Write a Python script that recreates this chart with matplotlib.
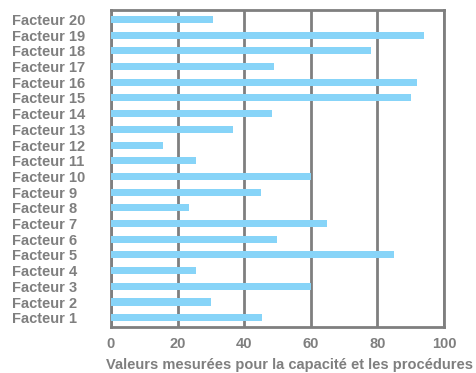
import matplotlib.pyplot as plt

facteurs = ["Facteur %d" % i for i in range(1, 21)]
valeurs = [45.5, 30, 60, 25.5, 85, 50, 65, 23.5, 45, 60,
           25.5, 15.5, 36.5, 48.5, 90, 92, 49, 78, 94, 30.5]
xticks = [0, 20, 40, 60, 80, 100]

gris = "#7f7f7f"
plt.rcParams['font.family'] = ['Liberation Sans', 'DejaVu Sans']

fig = plt.figure(figsize=(4.77, 3.73), dpi=100)
ax = fig.add_axes([0.2327, 0.123, 0.698, 0.85])

ax.barh(range(len(facteurs)), valeurs, height=0.45, color="#87D4F8", zorder=3)

ax.set_xlim(0, 100)
ax.set_ylim(-0.6, len(facteurs) - 0.4)
ax.set_xticks(xticks)
ax.set_yticks(range(len(facteurs)))
ax.set_yticklabels(facteurs, ha="left")
ax.tick_params(length=0, labelsize=10.5, labelcolor=gris)
ax.tick_params(axis="x", pad=7)
ax.tick_params(axis="y", pad=71)
for lab in ax.get_xticklabels() + ax.get_yticklabels():
    lab.set_fontweight("bold")
ax.xaxis.grid(True, color=gris, linewidth=2, zorder=1)

for s in ax.spines.values():
    s.set_color(gris)
    s.set_linewidth(2)

ax.set_xlabel("Valeurs mesurées pour la capacité et les procédures",
              fontsize=10.5, color=gris, fontweight="bold")
ax.xaxis.set_label_coords(0.535, -0.098)

fig.savefig("out.png", dpi=100)
